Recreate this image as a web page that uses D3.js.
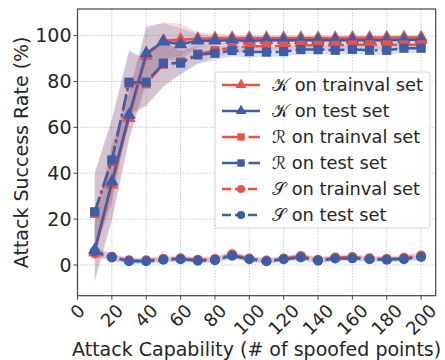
<!DOCTYPE html>
<html>
<head>
<meta charset="utf-8">
<script src="https://cdn.jsdelivr.net/npm/d3@7"></script>
<style>
  body { margin: 0; background: #fff; }
  text { font-family: "DejaVu Sans", sans-serif; fill: #262626; }
</style>
</head>
<body>
<svg id="chart" width="445" height="360"></svg>
<script>
// attack capability (number of spoofed points)
var points = [10, 20, 30, 40, 50, 60, 70, 80, 90, 100, 110, 120, 130, 140, 150, 160, 170, 180, 190, 200];

// attack success rate (%)
var kTrain = [5.5, 35, 64, 91, 97.8, 98.2, 98.6, 98.8, 99, 99, 99, 99, 99, 99, 99, 99.1, 99.1, 99.2, 99.2, 99.2];
var kTest  = [6.5, 36.3, 65.4, 92.3, 97.4, 96.2, 97.8, 97.8, 98, 97.8, 98, 98, 98, 98, 98, 98, 98, 98, 98.2, 98.2];
var rTrain = [22.5, 45, 79, 79, 87.5, 88.5, 92, 93.5, 94.8, 95.2, 95.5, 95.5, 95.8, 95.8, 95.8, 96, 96, 96, 96, 96];
var rTest  = [23.2, 45.8, 79.7, 79.7, 88, 88, 91.6, 92.3, 93.5, 93, 92.8, 93, 93.9, 93.9, 93.6, 94, 93.6, 93.6, 94.5, 94.5];
var sTrain = [5, 3.6, 2, 2, 2.7, 2.9, 2.2, 2.6, 4.6, 2.8, 1.9, 2.8, 3.9, 2.2, 3.2, 3.4, 2.9, 2.6, 3.1, 4.1];
var sTest  = [6, 3.3, 1.6, 1.6, 2.3, 2.5, 1.9, 2.1, 4, 2.5, 1.6, 2.5, 3.3, 1.9, 2.8, 2.9, 2.5, 2.3, 2.5, 3.5];

// spread of the runs (shaded bands)
var kStd = [13, 16, 10, 12, 8, 7, 3, 2, 1.5, 1.2, 1, 1, 1, 1, 1, 1, 1, 1, 1, 1];
var rStd = [17, 18, 14, 10, 10, 5, 4, 3, 2.5, 2.5, 2, 2, 2, 2, 2, 2, 2, 2, 2, 2];
var sStd = [2, 1.5, 1.2, 1.2, 1.2, 1.2, 1.2, 1.2, 1.5, 1.2, 1.2, 1.2, 1.5, 1.2, 1.2, 1.2, 1.2, 1.2, 1.2, 1.5];

var xTicks = [0, 20, 40, 60, 80, 100, 120, 140, 160, 180, 200];
var yTicks = [0, 20, 40, 60, 80, 100];

!function () {
  'use strict';

  var red = "#e8524c", blue = "#3b5ea6";

  var series = [
    { sym: "\u{1D4A6}", label: " on trainval set", values: kTrain, std: kStd, color: red,  marker: d3.symbolTriangle, size: 78, dash: null },
    { sym: "\u{1D4A6}", label: " on test set",     values: kTest,  std: kStd, color: blue, marker: d3.symbolTriangle, size: 78, dash: null },
    { sym: "\u211B",    label: " on trainval set", values: rTrain, std: rStd, color: red,  marker: d3.symbolSquare,   size: 84, dash: "16,4,2.5,4" },
    { sym: "\u211B",    label: " on test set",     values: rTest,  std: rStd, color: blue, marker: d3.symbolSquare,   size: 84, dash: "16,4,2.5,4" },
    { sym: "\u{1D4AE}", label: " on trainval set", values: sTrain, std: sStd, color: red,  marker: d3.symbolCircle,   size: 80, dash: "9,4" },
    { sym: "\u{1D4AE}", label: " on test set",     values: sTest,  std: sStd, color: blue, marker: d3.symbolCircle,   size: 80, dash: "9,4" }
  ];

  var svg = d3.select("#chart");
  var pLeft = 77.5, pRight = 435.7, pTop = 9, pBottom = 295.7;

  var x = d3.scaleLinear().domain([0, 208.5]).range([pLeft, pRight]);
  var y = d3.scaleLinear().domain([-13.4, 111.6]).range([pBottom, pTop]);

  // grid
  var grid = svg.append("g");
  grid.selectAll("line.gx").data(xTicks).enter().append("line")
    .attr("class", "gx")
    .attr("x1", function (d) { return x(d); }).attr("x2", function (d) { return x(d); })
    .attr("y1", pTop).attr("y2", pBottom)
    .style("stroke", "#c8c8c8").style("stroke-dasharray", "1.5,1.5");
  grid.selectAll("line.gy").data(yTicks).enter().append("line")
    .attr("class", "gy")
    .attr("y1", function (d) { return y(d); }).attr("y2", function (d) { return y(d); })
    .attr("x1", pLeft).attr("x2", pRight)
    .style("stroke", "#c8c8c8").style("stroke-dasharray", "1.5,1.5");

  var plot = svg.append("g");

  // bands
  var area = d3.area()
    .x(function (d, i) { return x(points[i]); })
    .y0(function (d) { return y(d[0] - d[1]); })
    .y1(function (d) { return y(d[0] + d[1]); });

  series.forEach(function (s) {
    var rows = s.values.map(function (v, i) { return [v, s.std[i]]; });
    plot.append("path")
      .attr("d", area(rows))
      .style("fill", s.color)
      .style("fill-opacity", 0.2)
      .style("stroke", "none");
  });

  // lines and markers
  var line = d3.line()
    .x(function (d, i) { return x(points[i]); })
    .y(function (d) { return y(d); });

  series.forEach(function (s) {
    plot.append("path")
      .attr("d", line(s.values))
      .style("fill", "none")
      .style("stroke", s.color)
      .style("stroke-width", 2.5)
      .style("stroke-dasharray", s.dash);
    plot.selectAll(null).data(s.values).enter().append("path")
      .attr("d", d3.symbol().type(s.marker).size(s.size))
      .attr("transform", function (d, i) { return "translate(" + x(points[i]) + "," + y(d) + ")"; })
      .style("fill", s.color);
  });

  // frame
  svg.append("rect")
    .attr("x", pLeft).attr("y", pTop)
    .attr("width", pRight - pLeft).attr("height", pBottom - pTop)
    .style("fill", "none").style("stroke", "#444").style("stroke-width", 1.2);

  // y axis
  var yAxis = svg.append("g");
  yAxis.selectAll("line").data(yTicks).enter().append("line")
    .attr("x1", pLeft - 4).attr("x2", pLeft)
    .attr("y1", function (d) { return y(d); }).attr("y2", function (d) { return y(d); })
    .style("stroke", "#444");
  yAxis.selectAll("text").data(yTicks).enter().append("text")
    .attr("x", pLeft - 6)
    .attr("y", function (d) { return y(d); })
    .attr("dy", "0.36em")
    .attr("text-anchor", "end")
    .style("font-size", "19px")
    .text(function (d) { return d; });

  // x axis
  var xAxis = svg.append("g");
  xAxis.selectAll("line").data(xTicks).enter().append("line")
    .attr("x1", function (d) { return x(d); }).attr("x2", function (d) { return x(d); })
    .attr("y1", pBottom).attr("y2", pBottom + 4)
    .style("stroke", "#444");
  xAxis.selectAll("text").data(xTicks).enter().append("text")
    .attr("text-anchor", "middle")
    .attr("dy", "0.35em")
    .style("font-size", "18px")
    .text(function (d) { return d; })
    .attr("transform", function (d) {
      var w = this.getComputedTextLength();
      var cy = pBottom + 6.5 + (w + 15) * 0.707 / 2;
      return "translate(" + x(d) + "," + cy + ") rotate(-45)";
    });

  // axis titles
  svg.append("text")
    .attr("transform", "translate(28," + ((pTop + pBottom) / 2) + ") rotate(-90)")
    .attr("text-anchor", "middle")
    .style("font-size", "19px")
    .text("Attack Success Rate (%)");

  svg.append("text")
    .attr("x", (pLeft + pRight) / 2)
    .attr("y", 356)
    .attr("text-anchor", "middle")
    .style("font-size", "19px")
    .text("Attack Capability (# of spoofed points)");

  // legend
  var legend = svg.append("g").attr("transform", "translate(215,72)");
  legend.append("rect")
    .attr("width", 215).attr("height", 156).attr("rx", 3)
    .style("fill", "#fff").style("fill-opacity", 0.85)
    .style("stroke", "#d6d6d6");

  var rowsG = legend.selectAll("g.row").data(series).enter().append("g")
    .attr("class", "row")
    .attr("transform", function (d, i) { return "translate(0," + (13 + i * 26) + ")"; });
  rowsG.append("line")
    .attr("x1", 7).attr("x2", 45)
    .style("stroke", function (d) { return d.color; })
    .style("stroke-width", 2.5)
    .style("stroke-dasharray", function (d) { return d.dash; });
  rowsG.append("path")
    .attr("d", function (d) { return d3.symbol().type(d.marker).size(d.size * 0.65)(); })
    .attr("transform", "translate(26,0)")
    .style("fill", function (d) { return d.color; });
  var lt = rowsG.append("text")
    .attr("x", 57)
    .attr("dy", "0.36em")
    .style("font-size", "17.8px");
  lt.append("tspan").text(function (d) { return d.sym; });
  lt.append("tspan").text(function (d) { return d.label; });
}();
</script>
</body>
</html>
